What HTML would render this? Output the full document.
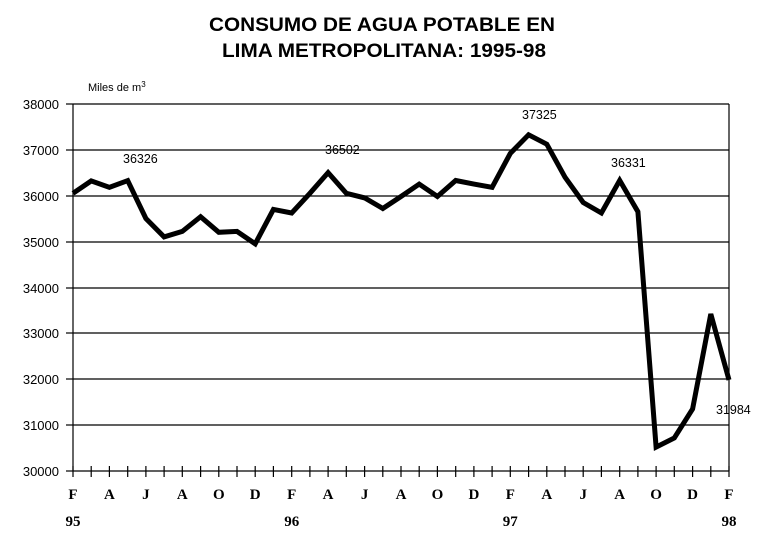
<!DOCTYPE html>
<html><head><meta charset="utf-8"><style>body{margin:0;background:#fff}svg{display:block}</style></head><body>
<svg width="769" height="540" xmlns="http://www.w3.org/2000/svg">
<rect width="769" height="540" fill="#fff"/>
<g font-family="Liberation Sans, sans-serif" font-weight="bold" font-size="19" text-anchor="middle" fill="#000">
<text x="382" y="31" textLength="346" lengthAdjust="spacingAndGlyphs">CONSUMO DE AGUA POTABLE EN</text>
<text x="384" y="57" textLength="324" lengthAdjust="spacingAndGlyphs">LIMA METROPOLITANA: 1995-98</text>
</g>
<text x="88" y="91" font-family="Liberation Sans, sans-serif" font-size="11">Miles de m<tspan font-size="8" dy="-4">3</tspan></text>
<g stroke="#000" stroke-width="1.2">
<line x1="73" y1="104" x2="729" y2="104"/><line x1="73" y1="150" x2="729" y2="150"/><line x1="73" y1="196" x2="729" y2="196"/><line x1="73" y1="242" x2="729" y2="242"/><line x1="73" y1="288" x2="729" y2="288"/><line x1="73" y1="333" x2="729" y2="333"/><line x1="73" y1="379" x2="729" y2="379"/><line x1="73" y1="425" x2="729" y2="425"/><line x1="73" y1="471" x2="729" y2="471"/>
<line x1="73" y1="104" x2="73" y2="471"/><line x1="729" y1="104" x2="729" y2="471"/>
<line x1="66" y1="104" x2="73" y2="104"/><line x1="66" y1="150" x2="73" y2="150"/><line x1="66" y1="196" x2="73" y2="196"/><line x1="66" y1="242" x2="73" y2="242"/><line x1="66" y1="288" x2="73" y2="288"/><line x1="66" y1="333" x2="73" y2="333"/><line x1="66" y1="379" x2="73" y2="379"/><line x1="66" y1="425" x2="73" y2="425"/><line x1="66" y1="471" x2="73" y2="471"/>
</g>
<path stroke="#000" stroke-width="1.2" fill="none" d="M73 466V477M91.2 466V477M109.4 466V477M127.7 466V477M145.9 466V477M164.1 466V477M182.3 466V477M200.6 466V477M218.8 466V477M237 466V477M255.2 466V477M273.4 466V477M291.7 466V477M309.9 466V477M328.1 466V477M346.3 466V477M364.6 466V477M382.8 466V477M401 466V477M419.2 466V477M437.4 466V477M455.7 466V477M473.9 466V477M492.1 466V477M510.3 466V477M528.6 466V477M546.8 466V477M565 466V477M583.2 466V477M601.4 466V477M619.7 466V477M637.9 466V477M656.1 466V477M674.3 466V477M692.6 466V477M710.8 466V477M729 466V477"/>
<g font-family="Liberation Sans, sans-serif" font-size="13" text-anchor="end">
<text x="59" y="109">38000</text><text x="59" y="155">37000</text><text x="59" y="201">36000</text><text x="59" y="247">35000</text><text x="59" y="293">34000</text><text x="59" y="338">33000</text><text x="59" y="384">32000</text><text x="59" y="430">31000</text><text x="59" y="476">30000</text>
</g>
<g font-family="Liberation Serif, serif" font-weight="bold" font-size="15" text-anchor="middle">
<text x="73" y="499">F</text><text x="109.4" y="499">A</text><text x="145.9" y="499">J</text><text x="182.3" y="499">A</text><text x="218.8" y="499">O</text><text x="255.2" y="499">D</text><text x="291.7" y="499">F</text><text x="328.1" y="499">A</text><text x="364.6" y="499">J</text><text x="401" y="499">A</text><text x="437.4" y="499">O</text><text x="473.9" y="499">D</text><text x="510.3" y="499">F</text><text x="546.8" y="499">A</text><text x="583.2" y="499">J</text><text x="619.7" y="499">A</text><text x="656.1" y="499">O</text><text x="692.6" y="499">D</text><text x="729" y="499">F</text>
<text x="73" y="526">95</text><text x="291.7" y="526">96</text><text x="510.3" y="526">97</text><text x="729" y="526">98</text>
</g>
<polyline fill="none" stroke="#000" stroke-width="5" points="73,193.3 91.2,180.9 109.4,187.3 127.7,180.6 145.9,218.5 164.1,236.9 182.3,231.4 200.6,216.7 218.8,232.3 237,231.4 255.2,243.8 273.4,209.4 291.7,213 309.9,193.3 328.1,172.6 346.3,193.3 364.6,197.9 382.8,208.5 401,196.5 419.2,184.1 437.4,196.5 455.7,180.5 473.9,184.1 492.1,187.3 510.3,153.4 528.6,134.8 546.8,144.2 565,177.2 583.2,202.5 601.4,213 619.7,180.4 637.9,211.7 656.1,447.1 674.3,438 692.6,409 710.8,314 729,379.9"/>
<g font-family="Liberation Sans, sans-serif" font-size="12.5" fill="#000">
<text x="123" y="163">36326</text><text x="325" y="154">36502</text><text x="522" y="119">37325</text><text x="611" y="167">36331</text><text x="716" y="414">31984</text>
</g>
</svg>
</body></html>
